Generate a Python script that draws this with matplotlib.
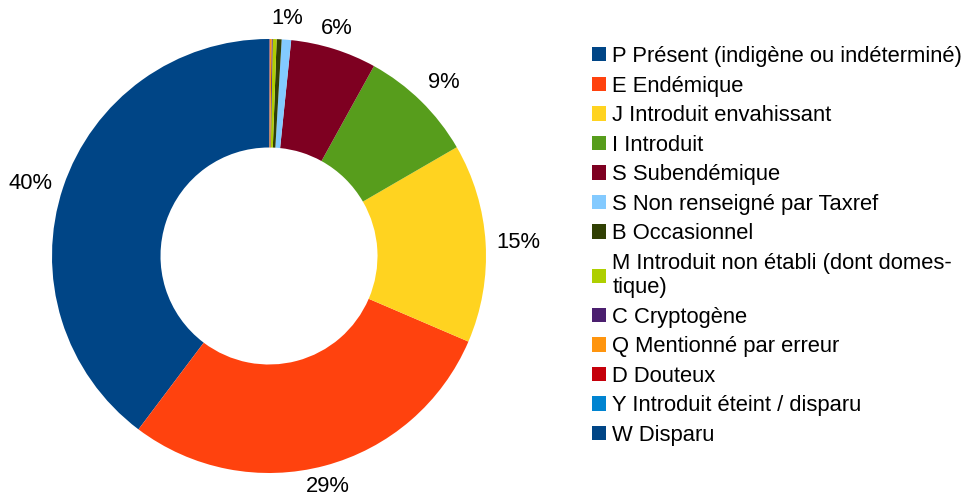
import matplotlib.pyplot as plt
import numpy as np

plt.rcParams["font.family"] = ["Liberation Sans", "DejaVu Sans"]

categories = [
    "P Présent (indigène ou indéterminé)",
    "E Endémique",
    "J Introduit envahissant",
    "I Introduit",
    "S Subendémique",
    "S Non renseigné par Taxref",
    "B Occasionnel",
    "M Introduit non établi (dont domes-\ntique)",
    "C Cryptogène",
    "Q Mentionné par erreur",
    "D Douteux",
    "Y Introduit éteint / disparu",
    "W Disparu",
]
shares = [39.7, 28.8, 14.8, 8.6, 6.4, 0.7, 0.37, 0.29, 0.08, 0.12, 0.04, 0.02, 0.01]
colors = ["#004586", "#ff420e", "#ffd320", "#579d1c", "#7e0021", "#83caff",
          "#314004", "#aecf00", "#4b1f6f", "#ff950e", "#c5000b", "#0084d1",
          "#004586"]

W, H = 966, 497
fs = 15.8
fig = plt.figure(figsize=(W / 100, H / 100), dpi=100)

# pie centre / radius in pixels
cx, cy, R = 269, 256, 217
half = 240
ax = fig.add_axes([(cx - half) / W, (H - cy - half) / H, 2 * half / W, 2 * half / H])

wedges, _ = ax.pie(shares, colors=colors, startangle=90, counterclock=True,
                   radius=1, wedgeprops=dict(width=0.5, linewidth=0),
                   normalize=True)
ax.set_xlim(-half / R, half / R)
ax.set_ylim(-half / R, half / R)
ax.set_aspect("equal")
ax.axis("off")

total = sum(shares)
for w, v in zip(wedges, shares):
    pct = round(100 * v / total)
    if pct < 1:
        continue
    mid = np.deg2rad((w.theta1 + w.theta2) / 2)
    c, s = np.cos(mid), np.sin(mid)
    r = 1.05
    ha = "left" if c > 0.35 else ("right" if c < -0.35 else "center")
    va = "bottom" if s > 0.35 else ("top" if s < -0.35 else "center")
    ax.text(r * c, r * s, f"{pct}%", ha=ha, va=va, fontsize=fs)

leg = fig.legend(wedges, categories, loc="upper left",
                 bbox_to_anchor=(592 / W, 1 - 46 / H), frameon=False,
                 fontsize=fs, handlelength=0.63, handleheight=0.63,
                 handletextpad=0.3, labelspacing=0.39, borderpad=0,
                 borderaxespad=0)

fig.savefig("out.png", dpi=100)
